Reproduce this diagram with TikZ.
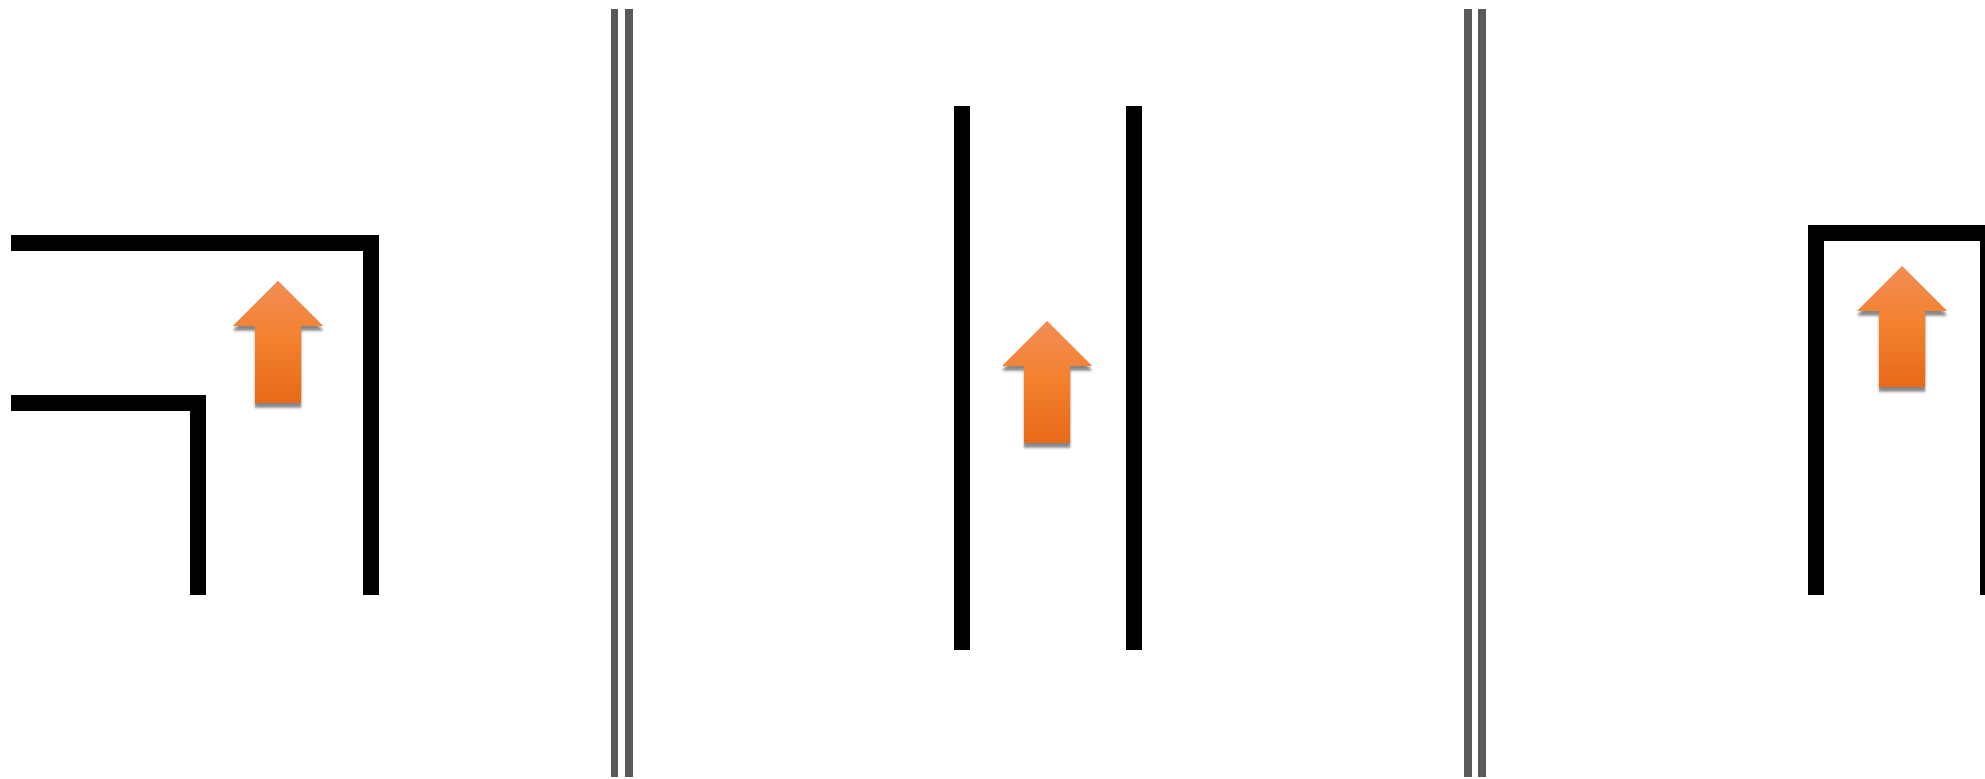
\documentclass[tikz,border=0pt]{standalone}
\definecolor{wallc}{RGB}{0,0,0}
\definecolor{sepc}{RGB}{90,90,90}
\definecolor{arrtop}{RGB}{241,141,85}
\definecolor{arrmid}{RGB}{243,128,44}
\definecolor{arrbot}{RGB}{231,105,24}
\newcommand{\arrowshape}[4]{(#1,#2) -- (#1+45,#3) -- (#1+23,#3) -- (#1+23,#4) -- (#1-23,#4) -- (#1-23,#3) -- (#1-45,#3) -- cycle}
\newcommand{\orangearrow}[4]{%
  \foreach \dy/\dx in {2/0,3/0,4/0,5/0,6/0,7/0,4/1,4/-1,5/2,5/-2}{%
    \fill[arrowshadow, shift={(\dx,\dy)}] \arrowshape{#1}{#2}{#3}{#4};}
  \path[arrowfill] \arrowshape{#1}{#2}{#3}{#4};}
\tikzset{
  wall/.style={draw=wallc, line width=8pt, line join=miter, line cap=butt},
  sep/.style={draw=sepc, line width=3.7pt},
  arrowshadow/.style={black, opacity=0.06},
  arrowfill/.style={top color=arrtop, bottom color=arrbot, middle color=arrmid},
}
\begin{document}
\begin{tikzpicture}[x=0.5pt, y=-0.5pt]
\useasboundingbox (0,0) rectangle (1985,779);
\clip (0,0) rectangle (1985,779);
\fill[white] (0,0) rectangle (1985,779);
% separators
\draw[sep] (614.5,9) -- (614.5,777);
\draw[sep] (629,9) -- (629,777);
\draw[sep] (1468,9) -- (1468,777);
\draw[sep] (1482,9) -- (1482,777);
% left panel
\draw[wall] (11,243) -- (370.5,243) -- (370.5,595);
\draw[wall] (11,403) -- (198,403) -- (198,595);
\orangearrow{278}{281}{326}{403}
% middle panel
\draw[wall] (962,106) -- (962,650);
\draw[wall] (1134,106) -- (1134,650);
\orangearrow{1047}{321}{366}{443}
% right panel
\draw[wall] (1816,595) -- (1816,233) -- (1988,233) -- (1988,595);
\orangearrow{1902}{266}{311}{387}
\end{tikzpicture}
\end{document}
